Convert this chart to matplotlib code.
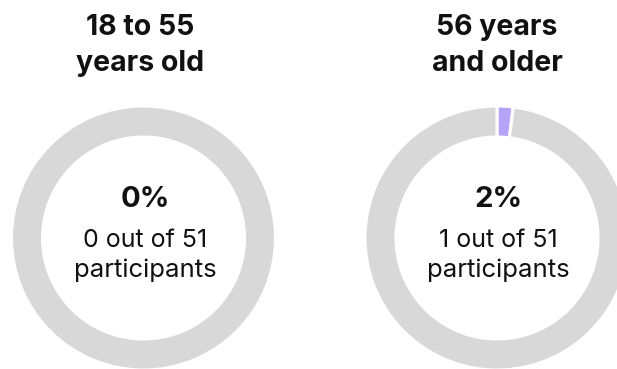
import matplotlib
matplotlib.use("Agg")
import matplotlib.pyplot as plt

# Participants by age group
groups = ["18 to 55\nyears old", "56 years\nand older"]
counts = [0, 1]
totals = [51, 51]

HIGHLIGHT = "#b4a3f7"
TRACK = "#d8d8d8"
TEXT = "#111111"

W, H = 617, 369
fig = plt.figure(figsize=(W / 100, H / 100), dpi=100)
ax = fig.add_axes([0, 0, 1, 1])

plt.rcParams["font.family"] = ["Inter", "DejaVu Sans"]

centers_x = [143.5, 497]
titles_x = [140.5, 497]
center_y = H - 238
radius = 132
ring = 31

for cx, tx, title, n, total in zip(centers_x, titles_x, groups, counts, totals):
    ax.pie([n, total - n], colors=[HIGHLIGHT, TRACK], startangle=90,
           counterclock=False, radius=radius, center=(cx, center_y),
           frame=True,
           wedgeprops=dict(width=ring, edgecolor="white", linewidth=2.2))

    # two-line title above the ring
    for i, line in enumerate(title.split("\n")):
        ax.text(tx, H - (35 + 36 * i), line, ha="center", va="baseline",
                fontsize=20.5, fontweight="bold", color=TEXT)

    pct = round(100 * n / total)
    ax.text(cx + 1.5, H - 207, f"{pct}%", ha="center", va="baseline",
            fontsize=21, fontweight="bold", color=TEXT)
    ax.text(cx + 1.5, H - 247, f"{n} out of {total}", ha="center", va="baseline",
            fontsize=18, color=TEXT)
    ax.text(cx + 1.5, H - 277, "participants", ha="center", va="baseline",
            fontsize=18.5, color=TEXT)

ax.set_xlim(0, W)
ax.set_ylim(0, H)
ax.set_aspect("equal")
ax.axis("off")
fig.savefig("out.png", dpi=100, facecolor="white")
